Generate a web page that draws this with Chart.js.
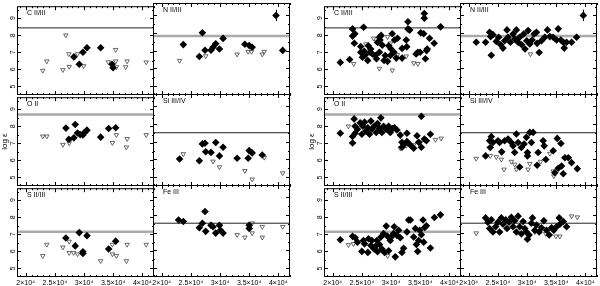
<!DOCTYPE html>
<html>
<head>
<meta charset="utf-8">
<script src="https://cdn.jsdelivr.net/npm/chart.js@4.4.0/dist/chart.umd.min.js"></script>
<style>
  html, body { margin: 0; padding: 0; background: #fff; }
  #wrap { position: relative; width: 600px; height: 286px; overflow: hidden; }
  #wrap canvas { position: absolute; }
</style>
</head>
<body>
<div id="wrap"></div>
<script>
// axes
const xTicks = [20000, 25000, 30000, 35000, 40000];
const xTickLabels = ['2×10⁴', '2.5×10⁴', '3×10⁴', '3.5×10⁴', '4×10⁴'];
const yTicks = [5, 6, 7, 8, 9];
const ions = ['C II/III', 'N II/III', 'O II', 'Si III/IV', 'S II/III', 'Fe III'];
const solar = [8.43, 7.83, 8.69, 7.51, 7.15, 7.54];

// left figure: detections (diamonds) and upper limits (triangles), [Teff, log eps]
const cDetL = [[28260,6.73],[29180,6.30],[29810,7.0],[30500,7.27],[32850,7.27],[34800,6.30],[34980,6.10]];
const cLimL = [[22920,5.93],[23610,6.48],[26370,5.97],[26880,8.0],[27400,6.9],[27450,6.16],[28880,6.9],[29920,6.2],[34170,6.43],[35430,7.15],[35430,6.48],[35550,6.14],[37150,6.14],[37390,6.48],[40660,6.42]];
const nDetL = [[23700,7.35],[26450,6.68],[26970,8.02],[27420,7.03],[28450,7.03],[28800,7.2],[29260,7.4],[29900,7.1],[30520,7.7],[34260,7.37],[35000,7.3],[35510,7.2],[39600,9.0],[40750,7.02]];
const nLimL = [[23060,6.44],[27540,6.7],[32930,6.8],[34820,6.95],[35400,6.95],[37240,6.8],[37580,6.95]];
const oDetL = [[26890,7.89],[27400,7.23],[28260,7.32],[28490,8.1],[28880,7.6],[29350,7.51],[29810,7.49],[30090,7.64],[30500,7.77],[32850,7.36],[34220,7.87],[35430,7.91]];
const oLimL = [[22920,7.41],[23610,7.41],[26370,6.92],[27450,7.01],[34860,7.03],[35550,7.49],[37270,6.77],[37390,7.26],[40660,7.49]];
const siDetL = [[23060,6.03],[26450,5.93],[26970,6.88],[27420,6.92],[27540,6.44],[28450,6.40],[29260,6.96],[29900,6.2],[30520,6.69],[32930,6.07],[34820,6.07],[35000,6.5],[35510,6.37],[37240,6.25]];
const siLimL = [[23700,6.31],[28800,5.89],[29900,5.57],[34260,5.36],[35510,4.88],[37580,6.11],[40750,5.23]];
const sDetL = [[26880,6.78],[28490,6.32],[29180,7.1],[29810,5.98],[29810,5.88],[30500,6.92],[34220,6.14],[35430,6.6]];
const sLimL = [[22920,5.74],[23610,6.4],[26370,6.24],[27450,6.58],[27450,5.92],[28200,5.92],[28880,5.84],[32850,5.44],[34860,6.4],[34860,5.84],[35550,5.74],[37270,5.44],[37390,6.4],[40660,6.4]];
const feDetL = [[22890,7.72],[23700,7.64],[26450,7.28],[26970,7.54],[27420,8.2],[27540,7.08],[28450,7.42],[28800,7.34],[29260,6.98],[29900,7.42],[30070,7.14],[30520,6.98],[35000,7.42],[35000,7.24]];
const feLimL = [[32930,6.88],[34260,6.74],[35510,6.98],[35510,7.54],[37240,7.34],[37240,6.74],[40750,7.34]];

// right figure
const cDetR = [[21300,6.41],[22900,6.58],[23400,8.37],[23400,7.95],[23800,8.09],[23700,7.53],[24800,7.34],[24800,7.0],[25100,6.71],[25300,8.47],[25400,7.06],[25600,6.85],[26000,6.52],[26100,7.38],[26400,7.0],[26500,7.19],[26800,6.9],[27300,6.81],[27500,6.62],[27700,7.57],[28000,7.88],[28100,7.72],[28300,7.99],[28000,7.0],[28500,7.42],[28800,6.52],[29000,6.81],[29400,6.47],[29600,7.38],[29900,6.81],[30000,7.19],[30200,8.09],[30500,7.0],[30600,7.72],[30900,6.66],[31100,7.82],[31900,6.66],[31900,7.23],[32600,7.72],[32700,7.32],[32900,8.79],[32900,8.37],[33200,8.3],[34300,6.9],[34600,7.0],[35000,7.0],[35100,8.14],[35600,8.09],[35700,9.27],[35700,9.0],[35900,6.62],[36100,7.1],[36200,7.19],[36600,7.82],[37400,7.53],[38500,8.49]];
const cLimR = [[23600,6.33],[25700,7.48],[27000,7.82],[27500,7.63],[28000,6.05],[29400,7.9],[29600,7.29],[29900,7.53],[30200,5.95],[31100,6.85],[32600,6.77],[33900,6.37],[34600,6.33]];
const nDetR = [[21280,7.48],[22890,7.48],[23580,8.05],[23750,7.8],[23870,6.75],[24150,7.91],[24730,7.53],[25130,7.76],[25470,7.34],[25870,7.15],[26160,7.57],[26560,8.18],[26740,7.76],[27140,7.48],[27600,7.95],[27880,7.67],[28170,8.18],[28460,7.48],[28740,7.76],[29090,7.34],[29430,7.95],[29660,7.1],[29950,7.57],[30180,8.14],[30470,7.38],[30870,7.61],[31210,7.95],[31610,8.05],[31730,7.42],[32080,6.9],[32480,7.57],[33050,7.76],[33510,8.18],[33910,7.8],[34490,7.76],[35060,7.61],[35350,8.24],[35800,7.61],[36210,7.48],[36380,7.15],[36780,7.48],[37640,7.48],[38500,7.76],[39650,9.0]];
const nLimR = [[30580,6.81]];
const oDetR = [[21300,7.59],[23400,7.4],[23400,7.02],[23670,8.43],[23840,8.0],[23840,7.59],[24240,7.82],[24700,8.2],[24990,7.53],[25160,8.0],[25450,8.24],[25680,7.72],[26020,7.91],[26310,7.53],[26540,8.3],[26710,7.82],[27110,8.0],[27460,7.63],[27680,8.16],[28030,7.86],[28260,8.49],[28430,7.63],[28720,8.0],[29180,7.82],[29580,8.0],[29870,7.63],[30270,7.86],[30610,7.91],[31010,7.78],[31590,7.48],[31870,7.06],[31870,6.77],[32160,6.9],[32730,7.59],[32730,7.1],[33310,6.9],[33880,6.71],[34460,7.44],[34740,7.06],[35200,8.58],[35200,6.77],[35720,7.25],[36060,7.15],[36750,7.53]];
const oLimR = [[22690,8.0],[31590,6.71],[32620,6.87],[33880,6.9],[35030,7.06],[37620,7.21],[38590,7.29]];
const siDetR = [[22890,6.2],[23580,7.06],[23690,6.68],[23870,7.29],[24150,6.96],[25010,7.06],[25300,6.96],[25650,6.43],[26160,7.06],[26740,7.15],[27310,6.96],[27600,6.77],[27880,6.39],[28170,7.44],[28460,6.96],[28740,5.57],[29030,6.68],[29490,6.87],[29890,7.25],[30070,6.39],[30070,6.2],[30470,7.53],[30750,6.96],[31040,7.53],[31730,5.67],[31900,6.39],[32760,7.06],[32940,6.77],[33220,6.0],[34490,6.49],[34770,5.25],[35180,7.19],[35350,5.5],[35810,6.9],[35920,5.63],[36210,5.19],[36500,6.1],[37070,6.1],[37640,5.82],[38620,5.48]];
const siLimR = [[21280,6.05],[23690,6.2],[24730,6.14],[25590,6.0],[26050,5.44],[27310,5.88],[27880,5.72],[28170,5.44],[30180,5.44],[30470,5.76],[32310,5.88],[33910,6.33],[34490,5.34],[34600,5.06]];
const sDetR = [[21300,6.68],[23400,6.88],[23840,6.8],[24240,6.54],[24990,6.0],[25270,6.64],[25450,6.44],[26020,5.94],[26130,6.74],[26540,6.34],[26710,6.64],[27110,6.14],[27280,6.28],[27570,6.64],[27680,5.98],[28030,6.4],[28260,6.84],[28430,6.14],[28720,7.04],[28890,5.94],[29180,7.48],[29410,6.88],[29580,6.04],[29870,6.64],[30040,6.84],[30440,7.04],[30550,7.44],[30730,5.68],[31010,6.94],[31300,7.24],[31590,6.8],[31870,5.94],[32160,6.18],[32730,7.14],[33020,7.84],[33310,7.84],[33880,6.84],[34170,7.34],[34340,6.4],[34570,6.0],[34740,6.64],[34920,7.24],[35200,6.98],[35490,7.84],[35600,6.54],[35780,7.4],[36060,7.5],[36750,6.2],[37440,7.98],[38480,8.14]];
const sLimR = [[22690,6.38],[23550,6.44],[29410,5.74]];
const feDetR = [[22890,7.84],[23290,7.6],[23580,7.24],[23870,7.74],[24150,7.04],[24610,7.34],[25010,7.6],[25300,7.04],[25590,7.84],[25880,7.48],[26340,7.74],[26560,7.24],[26910,7.6],[27310,7.88],[27600,7.34],[27880,7.68],[28170,7.04],[28460,7.94],[28740,7.34],[29030,6.94],[29320,7.64],[29610,7.24],[29890,7.04],[30070,6.64],[30350,6.88],[30750,7.54],[30930,7.84],[31330,7.14],[31610,7.44],[32080,7.04],[32480,7.28],[32880,7.68],[33340,7.14],[33800,6.88],[34200,7.28],[34600,7.14],[35060,7.34],[35520,7.84],[35630,7.48],[36210,7.64],[36780,7.34]];
const feLimR = [[21280,6.98],[31330,7.04],[33220,6.94],[34950,6.8],[35630,6.8],[37640,7.94],[38620,7.88]];

// error bar on the N panels: [Teff, log eps, error]
const nErrL = [39600, 9.0, 0.32];
const nErrR = [39650, 9.0, 0.32];

const detSets = [[cDetL, nDetL, oDetL, siDetL, sDetL, feDetL], [cDetR, nDetR, oDetR, siDetR, sDetR, feDetR]];
const limSets = [[cLimL, nLimL, oLimL, siLimL, sLimL, feLimL], [cLimR, nLimR, oLimR, siLimR, sLimR, feLimR]];
const errSets = [[null, nErrL, null, null, null, null], [null, nErrR, null, null, null, null]];

const XMIN = 18500, XMAX = 42000, YMIN = 4.5, YMAX = 9.7;
const blockLeft = [17, 324];
const PW = 137, PH = 92, ML = 17, MT = 3, MR = 3, MB = 10;
const grayLine = [false, true, true, false, true, false];

// frame, inward ticks, ion label, error bar
const framePlugin = {
    id: 'frame',
    afterDraw(chart, args, o) {
        const ctx = chart.ctx
        const a = chart.chartArea
        const xs = chart.scales.x, ys = chart.scales.y
        ctx.save()
        ctx.strokeStyle = '#000'
        ctx.lineWidth = 1
        ctx.strokeRect(a.left + 0.5, a.top + 0.5, a.width - 1, a.height - 1)
        ctx.beginPath()
        for (let v = 19000; v <= 42000; v += 1000) {
            const px = Math.round(xs.getPixelForValue(v)) + 0.5
            const len = v % 5000 === 0 ? 4 : 2
            ctx.moveTo(px, a.top); ctx.lineTo(px, a.top + len)
            ctx.moveTo(px, a.bottom); ctx.lineTo(px, a.bottom - len)
        }
        for (let v = 5; v <= 9.5; v += 0.5) {
            const py = Math.round(ys.getPixelForValue(v)) + 0.5
            const len = v % 1 === 0 ? 4 : 2
            ctx.moveTo(a.left, py); ctx.lineTo(a.left + len, py)
            ctx.moveTo(a.right, py); ctx.lineTo(a.right - len, py)
        }
        ctx.stroke()
        if (o.err) {
            const px = Math.round(xs.getPixelForValue(o.err[0])) + 0.5
            ctx.beginPath()
            ctx.moveTo(px, ys.getPixelForValue(o.err[1] - o.err[2]))
            ctx.lineTo(px, ys.getPixelForValue(o.err[1] + o.err[2]))
            ctx.stroke()
        }
        ctx.fillStyle = '#000'
        ctx.font = '7px "Liberation Sans"'
        ctx.textBaseline = 'middle'
        ctx.fillText(o.label, a.left + 10, a.top + 7)
        ctx.restore()
    }
};

const wrap = document.getElementById('wrap')
const toPts = arr => arr.map(p => ({ x: p[0], y: p[1] }))

for (let b = 0; b < 2; b++) {
    for (let p = 0; p < 6; p++) {
        const row = Math.floor(p / 2), col = p % 2
        const left = blockLeft[b] + col * (PW - 1)
        const top = MT + row * (PH - 1)
        const showY = col === 0
        const showX = row === 2

        const canvas = document.createElement('canvas')
        canvas.width = PW + ML + MR
        canvas.height = PH + MT + MB
        canvas.style.left = (left - ML) + 'px'
        canvas.style.top = (top - MT) + 'px'
        wrap.appendChild(canvas)

        new Chart(canvas, {
            type: 'scatter',
            data: {
                datasets: [{
                    data: toPts(detSets[b][p]),
                    pointStyle: 'rectRot',
                    radius: 3.8,
                    backgroundColor: '#000',
                    borderWidth: 0,
                    order: 1
                }, {
                    data: toPts(limSets[b][p]),
                    pointStyle: 'triangle',
                    rotation: 180,
                    radius: 2.6,
                    backgroundColor: 'rgba(255,255,255,0)',
                    borderColor: '#444',
                    borderWidth: 0.8,
                    order: 2
                }, {
                    type: 'line',
                    data: [{ x: XMIN, y: solar[p] }, { x: XMAX, y: solar[p] }],
                    borderColor: grayLine[p] ? '#aaaaaa' : '#222',
                    borderWidth: grayLine[p] ? 2.5 : 1,
                    pointRadius: 0,
                    order: 3
                }]
            },
            options: {
                responsive: false,
                animation: false,
                events: [],
                layout: {
                    autoPadding: false,
                    padding: { left: showY ? 0 : ML, top: MT, right: MR, bottom: showX ? 0 : MB }
                },
                plugins: {
                    legend: { display: false },
                    tooltip: { enabled: false },
                    frame: { label: ions[p], err: errSets[b][p] }
                },
                scales: {
                    x: {
                        type: 'linear',
                        min: XMIN, max: XMAX,
                        display: showX,
                        grid: { display: false, drawTicks: false },
                        border: { display: false },
                        afterBuildTicks: s => { s.ticks = xTicks.map(v => ({ value: v })) },
                        afterFit: s => { s.height = showX ? MB : 0 },
                        ticks: {
                            autoSkip: false, maxRotation: 0, minRotation: 0, padding: 2,
                            color: '#000',
                            font: { family: 'Liberation Sans', size: 7 },
                            callback: (v, i) => xTickLabels[i]
                        }
                    },
                    y: {
                        type: 'linear',
                        min: YMIN, max: YMAX,
                        display: showY,
                        grid: { display: false, drawTicks: false },
                        border: { display: false },
                        afterBuildTicks: s => { s.ticks = yTicks.map(v => ({ value: v })) },
                        afterFit: s => { s.width = showY ? ML : 0 },
                        title: {
                            display: row === 1,
                            text: 'log ε',
                            color: '#000',
                            padding: 0,
                            font: { family: 'Liberation Sans', size: 8 }
                        },
                        ticks: {
                            minRotation: 90, maxRotation: 90, crossAlign: 'center', padding: 2,
                            color: '#000',
                            font: { family: 'Liberation Sans', size: 7 }
                        }
                    }
                }
            },
            plugins: [framePlugin]
        })
    }
}
</script>
</body>
</html>
